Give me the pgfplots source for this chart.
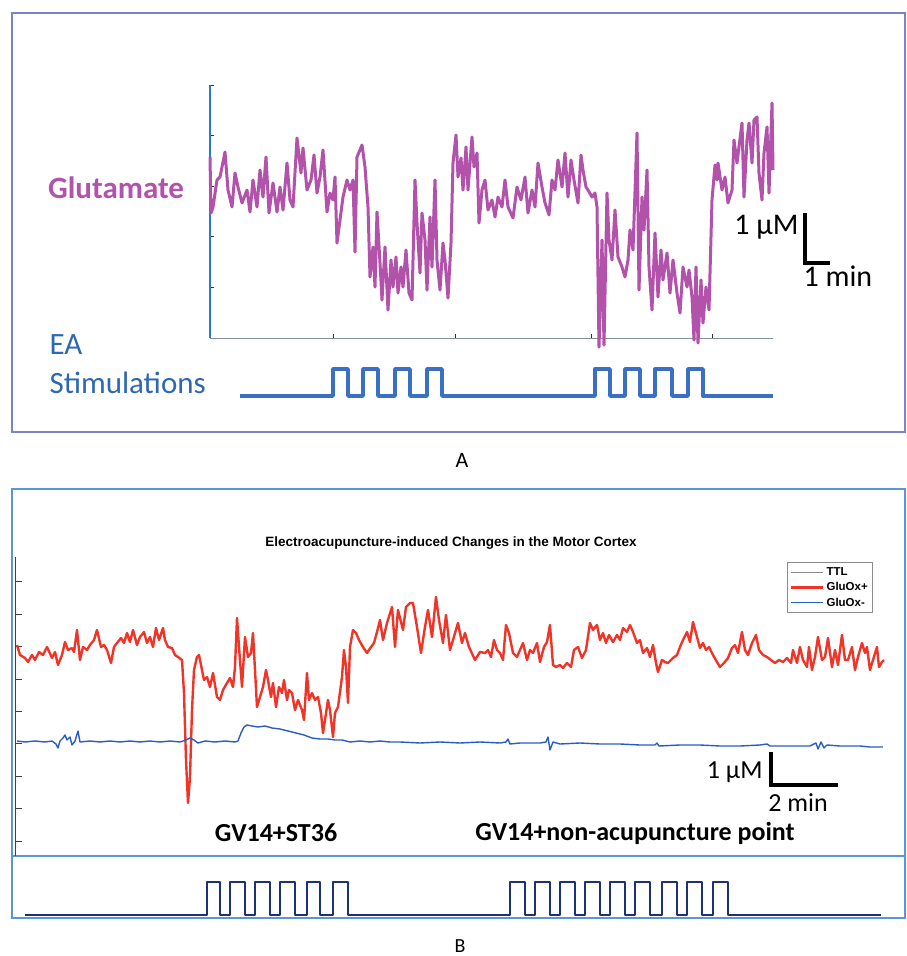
\documentclass[border=0pt]{standalone}
\usepackage{pgfplots}
\pgfplotsset{compat=1.18}
\usepackage{pgfplotstable}
\usepackage{fontspec}
\setmainfont{Carlito}
\newfontfamily\arialfont{Liberation Sans}
\definecolor{glu}{RGB}{178,82,170}
\definecolor{eablue}{RGB}{46,104,180}
\definecolor{stimA}{RGB}{58,112,196}
\definecolor{frameA}{RGB}{120,132,200}
\definecolor{frameB}{RGB}{91,150,215}
\definecolor{axblue}{RGB}{40,120,220}
\definecolor{axgray}{RGB}{130,145,160}
\definecolor{redtr}{RGB}{240,52,40}
\definecolor{bluetr}{RGB}{40,92,200}
\definecolor{stimB}{RGB}{28,50,120}

% Panel A glutamate trace (x: pixel position, 25 px = 1 min; y: pixel position, 50.6 px = 1 uM)
\pgfplotstableread{
x y
210 157
211 213
213 207
217 180
220 177
225 152
228 190
232 207
235 173
238 187
242 203
247 190
250 212
253 180
257 207
260 170
263 197
266 157
269 213
273 183
277 212
280 187
283 210
287 163
290 200
293 207
297 138
301 173
303 148
307 190
311 180
314 155
317 193
320 177
323 150
327 212
330 193
333 200
335 177
337 243
340 220
343 197
347 180
350 190
353 180
355 252
357 157
362 145
365 167
368 207
370 277
373 247
375 287
377 212
380 263
382 300
385 247
388 310
391 260
393 287
396 257
398 293
401 267
403 287
406 250
409 293
412 300
415 180
417 223
420 273
422 213
425 240
427 290
430 217
432 267
435 180
437 260
440 290
443 243
445 260
448 298
451 243
453 163
456 135
458 177
461 158
463 190
466 147
468 190
472 137
474 167
477 153
479 223
482 190
485 180
488 210
492 200
495 217
498 197
502 207
505 180
508 207
513 218
517 187
521 200
525 177
528 213
532 190
535 207
538 163
542 187
545 203
549 215
552 180
555 190
558 160
562 187
565 153
568 197
571 160
574 180
578 203
581 155
583 170
586 187
588 190
592 197
595 193
597 207
599 347
602 240
604 345
607 193
609 240
612 260
615 210
618 257
622 267
625 277
628 260
630 230
633 250
637 133
639 290
642 197
644 230
647 170
649 267
652 310
655 233
658 297
661 250
663 280
667 253
670 293
673 260
677 293
680 313
683 267
687 287
689 270
692 297
694 340
696 267
698 343
701 280
703 323
706 287
709 310
712 200
715 165
717 180
718 163
722 190
725 177
728 203
732 190
734 140
737 163
739 147
742 123
744 197
747 140
749 123
752 163
754 120
757 117
759 173
762 200
764 153
767 127
769 193
772 103
773 170
}\gluA

\pgfplotstableread{
x s
240 0
333 0
333 1
348 1
348 0
363 0
363 1
378 1
378 0
395 0
395 1
410 1
410 0
427 0
427 1
442 1
442 0
595 0
595 1
610 1
610 0
625 0
625 1
640 1
640 0
655 0
655 1
672 1
672 0
688 0
688 1
703 1
703 0
773 0
}\stimAtab

% Panel B traces (x: pixel position, 33.5 px = 1 min; y: pixel position, 32.4 px = 1 uM)
\pgfplotstableread{
x y
17 645
20 655
25 658
28 662
32 655
35 660
39 652
43 655
47 647
52 658
55 652
58 665
62 655
65 642
68 650
72 648
74 652
77 630
80 660
83 647
87 650
90 645
94 640
97 630
101 647
104 645
107 650
111 663
114 647
117 643
121 638
124 643
127 633
130 642
133 630
137 645
140 637
144 632
147 643
150 637
153 647
156 628
159 640
163 628
165 640
168 647
172 648
175 655
178 657
182 660
184 693
186 760
188 803
190 777
192 710
194 670
197 657
199 655
202 670
204 680
207 677
210 687
213 673
217 697
220 700
223 690
227 683
230 678
233 687
235 667
237 618
239 647
242 687
245 637
248 657
251 653
253 633
255 670
257 707
260 697
263 687
266 670
268 680
271 697
273 683
276 707
279 687
282 693
284 680
287 700
289 690
292 693
295 710
298 700
302 710
304 720
307 673
309 700
312 693
315 700
318 697
321 713
323 733
325 720
328 700
330 710
333 737
335 713
338 707
342 677
344 650
346 667
348 703
350 647
353 630
356 633
359 640
363 647
367 653
371 647
374 643
377 632
380 620
383 640
387 623
392 607
395 647
398 610
403 630
406 607
410 603
413 603
417 627
421 653
425 627
428 610
432 637
436 597
439 620
443 643
446 615
450 650
453 640
458 623
462 643
465 633
469 647
475 660
480 652
485 653
488 650
491 657
494 640
497 650
500 653
503 660
506 625
509 633
513 653
517 657
520 650
523 643
527 660
530 650
533 653
537 643
540 662
544 647
547 642
550 625
553 665
556 667
560 665
563 668
567 663
571 667
574 650
578 647
582 658
586 650
590 623
593 630
597 625
600 640
603 633
606 643
609 635
613 642
617 635
620 640
623 628
627 632
630 625
633 632
637 643
640 640
643 653
647 648
650 657
653 645
656 663
658 672
662 660
665 662
668 663
673 658
677 655
680 647
683 640
687 632
690 642
693 622
697 637
700 648
703 643
706 650
709 647
713 655
717 662
720 667
724 663
728 658
732 648
735 645
738 653
742 632
745 650
748 655
752 643
756 635
759 650
763 655
767 657
771 660
775 663
779 660
783 662
787 658
791 663
793 650
797 663
800 647
803 660
807 667
809 647
812 670
815 657
818 637
822 660
825 657
828 638
832 667
835 650
838 665
842 635
845 660
848 660
852 647
855 670
858 657
862 643
865 653
867 647
870 670
873 660
877 647
879 667
882 662
884 660
}\redB

\pgfplotstableread{
x y
17 741
25 742
35 741
45 742
52 741
56 744
58 748
60 741
63 738
65 735
67 740
70 737
72 745
75 741
78 731
80 742
90 741
100 742
110 741
120 742
130 741
140 742
150 741
160 742
170 741
180 742
186 740
190 738
194 740
198 743
205 741
215 742
225 741
235 742
238 741
241 733
244 727
247 725
252 726
258 727
265 726
272 728
280 729
288 731
296 733
304 735
312 738
320 739
328 739
335 740
342 740
350 742
360 741
370 742
380 741
390 742
400 742
420 743
440 742
460 743
480 742
500 743
506 742
508 739
510 744
520 743
540 743
546 742
548 737
550 750
553 742
560 744
580 743
600 744
620 744
640 745
655 745
657 743
659 746
680 745
700 745
720 746
740 746
760 745
767 744
770 746
790 746
810 746
816 743
818 749
821 742
824 748
827 745
840 746
860 746
870 747
883 747
}\blueB

\pgfplotstableread{
x s
25 0
207 0
207 1
220 1
220 0
230 0
230 1
245 1
245 0
255 0
255 1
270 1
270 0
280 0
280 1
295 1
295 0
307 0
307 1
320 1
320 0
333 0
333 1
348 1
348 0
510 0
510 1
525 1
525 0
535 0
535 1
550 1
550 0
560 0
560 1
575 1
575 0
585 0
585 1
600 1
600 0
610 0
610 1
625 1
625 0
635 0
635 1
650 1
650 0
662 0
662 1
677 1
677 0
687 0
687 1
702 1
702 0
713 0
713 1
728 1
728 0
881 0
}\stimBtab

\begin{document}
\begin{tikzpicture}
\path[use as bounding box] (0,0) rectangle (906pt,-956pt);
% frames
\draw[frameA, line width=1.2pt] (12pt,-13pt) rectangle (905pt,-432pt);
\draw[frameB, line width=1.2pt] (12pt,-489pt) rectangle (905pt,-918pt);
\draw[frameB, line width=1.2pt] (12pt,-856pt) -- (905pt,-856pt);

% ---------- Panel A ----------
\begin{axis}[at={(210pt,-338pt)}, anchor=south west, scale only axis,
  width=563pt, height=253pt, xmin=0, xmax=22.52, ymin=0, ymax=5, clip=false,
  axis x line*=bottom, axis y line*=left,
  x axis line style={-, draw=axgray, line width=0.9pt},
  y axis line style={-, draw=axblue, line width=1.4pt},
  xtick={4.92,9.8,15.24,20.08}, ytick={1,2,3,4,5},
  xticklabel=\empty, yticklabel=\empty,
  tick align=inside, major tick length=4pt,
  tick style={black!80, line width=0.7pt}]
\addplot[glu, line width=3pt, line join=round] table[x expr={(\thisrow{x}-210)/25}, y expr={(338-\thisrow{y})/50.6}] {\gluA};
\end{axis}

\begin{axis}[at={(210pt,-396pt)}, anchor=south west, scale only axis,
  width=563pt, height=27pt, xmin=0, xmax=22.52, ymin=0, ymax=1, clip=false, hide axis]
\addplot[stimA, line width=3.4pt, line join=round] table[x expr={(\thisrow{x}-210)/25}, y=s] {\stimAtab};
\end{axis}

\node[glu, font=\fontsize{31}{36}\selectfont\bfseries] at (116pt,-188pt) {Glutamate};
\node[eablue, font=\fontsize{31}{36}\selectfont, anchor=west] at (46pt,-345pt) {EA};
\node[eablue, font=\fontsize{31}{36}\selectfont, anchor=west] at (46pt,-383pt) {Stimulations};
\draw[black, line width=4pt] (805pt,-213pt) -- (805pt,-263pt) -- (830pt,-263pt);
\node[font=\fontsize{30}{34}\selectfont, anchor=east] at (802pt,-227pt) {1 µM};
\node[font=\fontsize{30}{34}\selectfont, anchor=west] at (800pt,-276pt) {1 min};
\node[font=\fontsize{22}{26}\selectfont] at (462pt,-460pt) {A};

% ---------- Panel B ----------
\begin{axis}[at={(15pt,-856pt)}, anchor=south west, scale only axis,
  width=875pt, height=299pt, xmin=0, xmax=26.12, ymin=-0.463, ymax=8.765, clip=false,
  axis y line*=left, axis x line=none,
  y axis line style={-, draw=black!75, line width=1pt},
  ytick={0,1,2,3,4,5,6,7,8}, yticklabel=\empty, xtick=\empty,
  tick align=inside, major tick length=7pt,
  tick style={black!75, line width=0.9pt},
  legend style={at={(0.882,0.983)}, anchor=north west,
    font=\arialfont\bfseries\fontsize{11.5}{13}\selectfont,
    draw=black!45, line width=0.8pt, fill=white, inner sep=3pt, row sep=1.5pt},
  legend cell align=left,
  legend image code/.code={\draw[#1] (0pt,0pt) -- (32pt,0pt);}]
\addlegendimage{black!45, line width=0.6pt}
\addlegendentry{TTL}
\addplot[redtr, line width=2.4pt, line join=round] table[x expr={(\thisrow{x}-15)/33.5}, y expr={(841-\thisrow{y})/32.4}] {\redB};
\addlegendentry{GluOx+}
\addplot[bluetr, line width=1.4pt, line join=round] table[x expr={(\thisrow{x}-15)/33.5}, y expr={(841-\thisrow{y})/32.4}] {\blueB};
\addlegendentry{GluOx-}
\end{axis}

\begin{axis}[at={(15pt,-915pt)}, anchor=south west, scale only axis,
  width=875pt, height=33pt, xmin=0, xmax=26.12, ymin=0, ymax=1, clip=false, hide axis]
\addplot[stimB, line width=2.8pt, line join=round] table[x expr={(\thisrow{x}-15)/33.5}, y=s] {\stimBtab};
\end{axis}

\node[font=\arialfont\bfseries\fontsize{13.5}{16}\selectfont] at (451pt,-543pt) {Electroacupuncture-induced Changes in the Motor Cortex};
\draw[black, line width=4pt] (771pt,-752pt) -- (771pt,-785pt) -- (838pt,-785pt);
\node[font=\fontsize{26}{30}\selectfont, anchor=east] at (766pt,-772pt) {1 µM};
\node[font=\fontsize{26}{30}\selectfont] at (798pt,-803pt) {2 min};
\node[font=\fontsize{26}{30}\selectfont\bfseries] at (276pt,-833pt) {GV14+ST36};
\node[font=\fontsize{26}{30}\selectfont\bfseries] at (635pt,-833pt) {GV14+non-acupuncture point};
\node[font=\fontsize{20}{24}\selectfont, anchor=base] at (460pt,-952pt) {B};
\end{tikzpicture}
\end{document}
